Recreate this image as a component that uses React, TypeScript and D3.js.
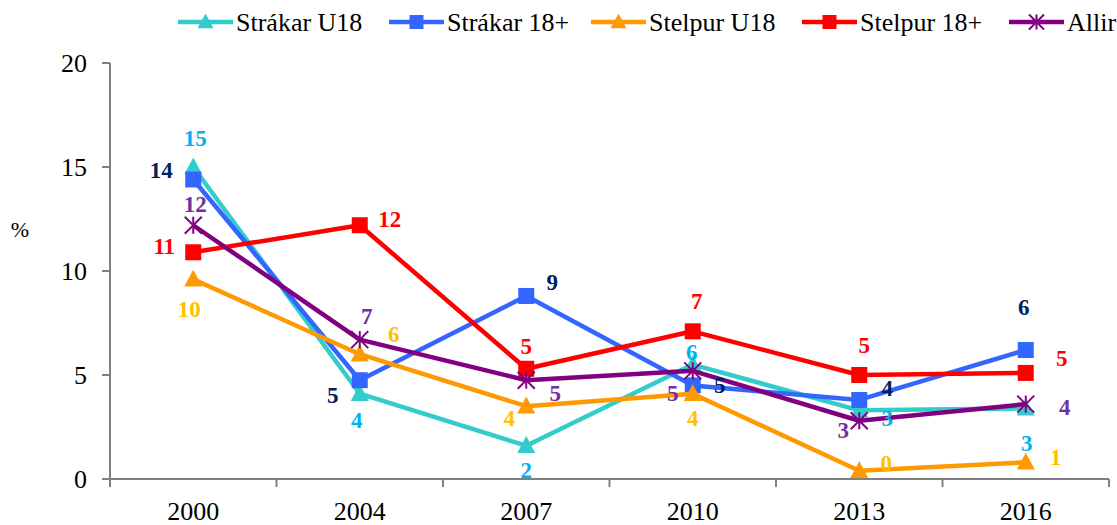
import React from "react";
import * as d3 from "d3";

const years = ["2000", "2004", "2007", "2010", "2013", "2016"];
const yTicks = [0, 5, 10, 15, 20];

const strakarU18 = [15.0, 4.1, 1.6, 5.5, 3.3, 3.4];
const strakar18 = [14.4, 4.75, 8.8, 4.5, 3.8, 6.2];
const stelpurU18 = [9.6, 6.0, 3.5, 4.1, 0.4, 0.8];
const stelpur18 = [10.9, 12.2, 5.3, 7.1, 5.0, 5.1];
const allir = [12.2, 6.7, 4.75, 5.2, 2.8, 3.6];

// label offsets (layout only)
const offU18 = [[2, -29], [-3, 26], [0, 24], [-1, -13], [28, 8], [1, 35]];
const off18 = [[-32, -9], [-27, 15], [26, -14], [27, 0], [28, -12], [-2, -43]];
const offSU18 = [[-4, 30], [34, -20], [-17, 12], [0, 24], [27, -8], [30, -5]];
const offS18 = [[-29, -6], [30, -6], [0, -23], [4, -30], [5, -30], [36, -15]];
const offAll = [[2, -21], [7, -24], [29, 13], [-20, 22], [-16, 9], [39, 3]];

type Shape = "tri" | "sq" | "star";
const series: { name: string; values: number[]; color: string; label: string; shape: Shape; off: number[][] }[] = [
  { name: "Strákar U18", values: strakarU18, color: "#33CCCC", label: "#00B0F0", shape: "tri", off: offU18 },
  { name: "Strákar 18+", values: strakar18, color: "#3366FF", label: "#002060", shape: "sq", off: off18 },
  { name: "Stelpur U18", values: stelpurU18, color: "#FF9900", label: "#FFC000", shape: "tri", off: offSU18 },
  { name: "Stelpur 18+", values: stelpur18, color: "#FF0000", label: "#FF0000", shape: "sq", off: offS18 },
  { name: "Allir", values: allir, color: "#800080", label: "#7030A0", shape: "star", off: offAll },
];

const legendX = [178, 389, 591, 802, 1009];

const W = 1117, H = 525;
const left = 110, right = 1109, top = 63, bottom = 479;
const font = "Liberation Serif";

function Marker({ shape, x, y, color, s }: { shape: Shape; x: number; y: number; color: string; s: number }) {
  if (shape === "sq") return <rect x={x - s / 2} y={y - s / 2} width={s} height={s} fill={color} />;
  if (shape === "tri") {
    const h = s;
    return <path d={`M${x},${y - h * 0.6} L${x + s / 2 + 1},${y + h * 0.45} L${x - s / 2 - 1},${y + h * 0.45} Z`} fill={color} />;
  }
  const r = s / 2;
  return (
    <g stroke={color} strokeWidth={2}>
      <line x1={x} y1={y - r} x2={x} y2={y + r} />
      <line x1={x - r} y1={y - r} x2={x + r} y2={y + r} />
      <line x1={x - r} y1={y + r} x2={x + r} y2={y - r} />
    </g>
  );
}

function T(props: any) {
  const { children, ...rest } = props;
  return (
    <text fontFamily={font} {...rest}>
      {children}
    </text>
  );
}

export default function App() {
  const x = d3.scaleBand<string>().domain(years).range([left, right]);
  const y = d3.scaleLinear().domain([0, 20]).range([bottom, top]);
  const cx = (yr: string) => (x(yr) as number) + x.bandwidth() / 2;
  const line = d3
    .line<number>()
    .x((_, i) => cx(years[i]))
    .y((d) => y(d));

  return (
    <svg width={W} height={H} style={{ position: "absolute", left: 0, top: 0 }}>
      <style>{`text { font-family: "Liberation Serif", "Times New Roman", serif !important; }`}</style>
      <rect x={0} y={0} width={W} height={H} fill="#fff" />
      {/* axes */}
      <line x1={left} y1={top} x2={left} y2={bottom + 8} stroke="#808080" strokeWidth={2} />
      <line x1={left - 8} y1={bottom} x2={right} y2={bottom} stroke="#808080" strokeWidth={2} />
      {yTicks.map((t) => (
        <g key={t}>
          <line x1={left - 8} x2={left} y1={y(t)} y2={y(t)} stroke="#808080" strokeWidth={2} />
          <T x={87} y={y(t) + 9} textAnchor="end" fontSize={26} fill="#000">
            {t}
          </T>
        </g>
      ))}
      {years.map((yr) => (
        <g key={yr}>
          <line x1={(x(yr) as number) + x.bandwidth()} x2={(x(yr) as number) + x.bandwidth()} y1={bottom} y2={bottom + 8} stroke="#808080" strokeWidth={2} />
          <T x={cx(yr)} y={520} textAnchor="middle" fontSize={26} fill="#000">
            {yr}
          </T>
        </g>
      ))}
      <T x={20} y={237} textAnchor="middle" fontSize={22} fill="#000">
        %
      </T>

      {/* series */}
      {series.map((s) => (
        <g key={s.name}>
          <path d={line(s.values) || ""} fill="none" stroke={s.color} strokeWidth={4.5} strokeLinejoin="round" />
          {s.values.map((v, i) => (
            <Marker key={i} shape={s.shape} x={cx(years[i])} y={y(v)} color={s.color} s={s.shape === "star" ? 17 : 16} />
          ))}
        </g>
      ))}
      {/* labels */}
      {series.map((s) =>
        s.values.map((v, i) => (
          <T
            key={s.name + i}
            x={cx(years[i]) + s.off[i][0]}
            y={y(v) + s.off[i][1] + 8}
            textAnchor="middle"
            fontSize={23}
            fontWeight="bold"
            fill={s.label}
          >
            {Math.round(v)}
          </T>
        ))
      )}

      {/* legend */}
      {series.map((s, i) => (
        <g key={"lg" + s.name}>
          <line x1={legendX[i]} x2={legendX[i] + 55} y1={22} y2={22} stroke={s.color} strokeWidth={4.5} />
          <Marker shape={s.shape} x={legendX[i] + 27.5} y={22} color={s.color} s={s.shape === "star" ? 15 : 14} />
          <T x={legendX[i] + 58} y={31} fontSize={26} fill="#000">
            {s.name}
          </T>
        </g>
      ))}
    </svg>
  );
}
